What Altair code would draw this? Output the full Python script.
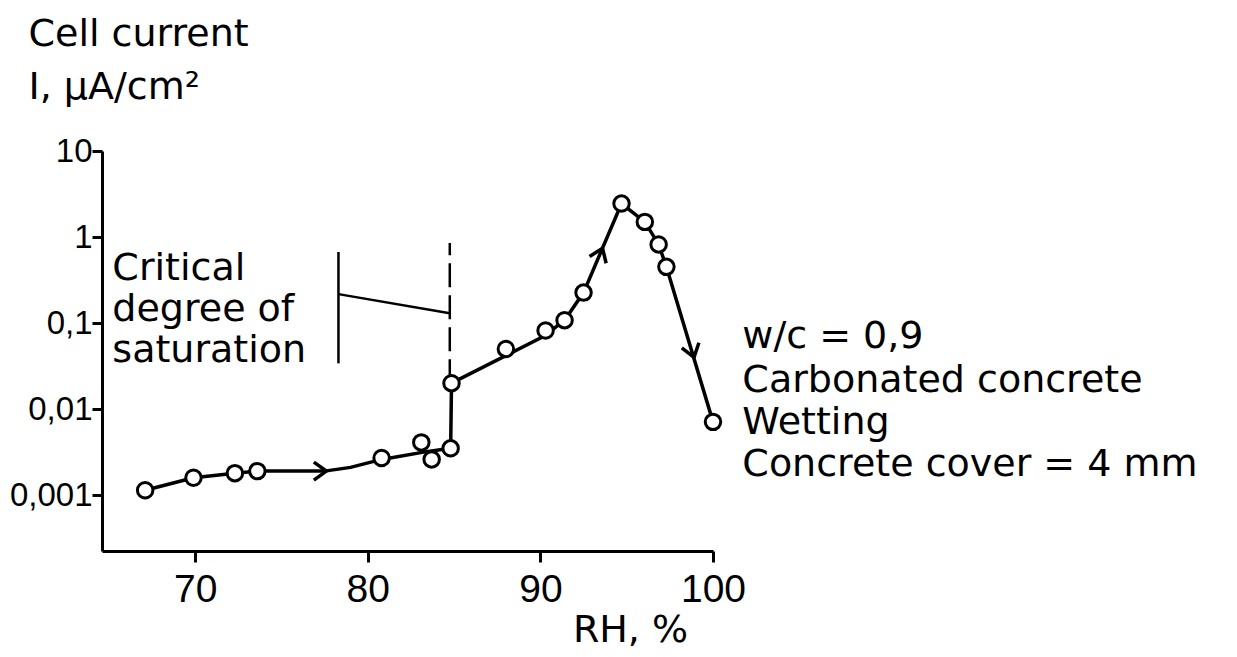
import altair as alt
import pandas as pd

# ---- data ----
# measured points (open circles)
pt_rh = [67.1, 69.9, 72.3, 73.6, 80.8, 83.1, 83.7, 84.8, 84.85, 88.0, 90.3, 91.4, 92.5, 94.7, 96.05, 96.85, 97.3, 100.0]
pt_i = [0.00114, 0.00159, 0.0018, 0.0019, 0.0027, 0.0041, 0.0026, 0.0035, 0.020, 0.050, 0.082, 0.108, 0.226, 2.45, 1.5, 0.82, 0.45, 0.0071]

# drawn curve through the points
curve_rh = [67.1, 69.9, 72.3, 73.6, 77.5, 79.0, 80.8, 83.4, 84.8, 84.85, 90.2, 91.4, 92.5, 94.7, 96.05, 96.85, 97.3, 100.0]
curve_i = [0.00114, 0.00159, 0.0018, 0.0019, 0.0019, 0.0021, 0.0026, 0.0032, 0.0035, 0.020, 0.07, 0.108, 0.226, 2.45, 1.5, 0.82, 0.45, 0.0071]

# arrowheads on the curve
arrow_rh = [77.6, 93.6, 98.9]
arrow_i = [0.0019, 0.74, 0.04]
arrow_angle = [0, 292, 73]

# critical degree of saturation marker
crit_rh = [84.75]
crit_lo = [0.020]
crit_hi = [0.85]
bracket_rh = [78.3]
bracket_lo = [0.034]
bracket_hi = [0.67]
connector_rh = [78.3, 84.75]
connector_i = [0.217, 0.13]
crit_text = ["Critical", "degree of", "saturation"]
crit_text_rh = [65.2, 65.2, 65.2]
crit_text_i = [0.316, 0.1054, 0.0352]

# right-hand legend text
info_text = ["w/c = 0,9", "Carbonated concrete", "Wetting", "Concrete cover = 4 mm"]
info_rh = [101.7, 101.7, 101.7, 101.7]
info_i = [0.0512, 0.01578, 0.00512, 0.001663]

y_ticks = [0.001, 0.01, 0.1, 1, 10]
x_ticks = [70, 80, 90, 100]

TEXT_FONT = "DejaVu Sans"
NUM_FONT = "Liberation Sans"

xs = alt.Scale(domain=[64.6, 100], nice=False, zero=False)
ys = alt.Scale(type="log", domain=[0.000224, 10], nice=False)

X = lambda **k: alt.X("rh:Q", scale=xs, **k)
Y = lambda **k: alt.Y("i:Q", scale=ys, **k)

curve_df = pd.DataFrame({"rh": curve_rh, "i": curve_i, "o": list(range(len(curve_rh)))})
pts_df = pd.DataFrame({"rh": pt_rh, "i": pt_i})
arrow_df = pd.DataFrame({"rh": arrow_rh, "i": arrow_i, "a": arrow_angle})
crit_df = pd.DataFrame({"rh": crit_rh, "i": crit_lo, "i2": crit_hi})
bracket_df = pd.DataFrame({"rh": bracket_rh, "i": bracket_lo, "i2": bracket_hi})
conn_df = pd.DataFrame({"rh": connector_rh, "i": connector_i})
ctext_df = pd.DataFrame({"rh": crit_text_rh, "i": crit_text_i, "t": crit_text})
info_df = pd.DataFrame({"rh": info_rh, "i": info_i, "t": info_text})

x_axis = alt.Axis(
    values=x_ticks, title="RH, %", grid=False,
    domainColor="black", domainWidth=3, tickColor="black", tickWidth=3, tickSize=11,
    labelFont=NUM_FONT, labelFontSize=39, labelColor="black", labelPadding=8,
    labelFlush=False, labelOverlap=False,
    titleFont=TEXT_FONT, titleFontSize=38, titleFontWeight="normal", titleColor="black",
    titleAnchor="start", titleAlign="center", titleBaseline="alphabetic",
    titleX=528, titleY=90,
)
y_axis = alt.Axis(
    values=y_ticks, title=["Cell current", "I, μA/cm²"], grid=False,
    labelExpr="replace(format(datum.value, '~g'), '.', ',')",
    domainColor="black", domainWidth=3, tickColor="black", tickWidth=3, tickSize=10,
    labelFont=NUM_FONT, labelFontSize=33, labelColor="black", labelPadding=0,
    labelFlush=False, labelOverlap=False, labelBaseline="middle",
    titleFont=TEXT_FONT, titleFontSize=38, titleFontWeight="normal", titleColor="black",
    titleAngle=0, titleAlign="left", titleBaseline="alphabetic", titleAnchor="start",
    titleX=-74, titleY=-106, titleLineHeight=53,
)

base_curve = alt.Chart(curve_df).mark_line(color="black", strokeWidth=3.5).encode(
    x=X(axis=x_axis), y=Y(axis=y_axis), order="o:Q"
)
dash = alt.Chart(crit_df).mark_rule(color="black", strokeWidth=2.5, strokeDash=[24, 8]).encode(
    x=X(), y=Y(), y2="i2:Q"
)
bracket = alt.Chart(bracket_df).mark_rule(color="black", strokeWidth=2.5).encode(
    x=X(), y=Y(), y2="i2:Q"
)
conn = alt.Chart(conn_df).mark_line(color="black", strokeWidth=2.5).encode(x=X(), y=Y())
points = alt.Chart(pts_df).mark_point(
    shape="circle", size=240, filled=False, fill="white", fillOpacity=1,
    stroke="black", strokeWidth=3, opacity=1
).encode(x=X(), y=Y())
arrows = alt.Chart(arrow_df).mark_point(
    shape="M -1.4 -1 L 0 0 L -1.4 1", size=320, filled=False, stroke="black",
    strokeWidth=3.5, opacity=1
).encode(x=X(), y=Y(), angle=alt.Angle("a:Q", scale=None))
ctext = alt.Chart(ctext_df).mark_text(
    font=TEXT_FONT, fontSize=38, align="left", baseline="alphabetic", color="black"
).encode(x=X(), y=Y(), text="t:N")
itext = alt.Chart(info_df).mark_text(
    font=TEXT_FONT, fontSize=38, align="left", baseline="alphabetic", color="black"
).encode(x=X(), y=Y(), text="t:N")

chart = alt.layer(base_curve, dash, bracket, conn, points, arrows, ctext, itext).properties(
    width=611, height=400,
    padding={"left": 94, "top": 143, "right": 516, "bottom": 98},
    autosize=alt.AutoSizeParams(type="none"),
    background="white",
).configure_view(stroke=None)

chart.save("out.html", embed_options={"renderer": "svg", "actions": False})
